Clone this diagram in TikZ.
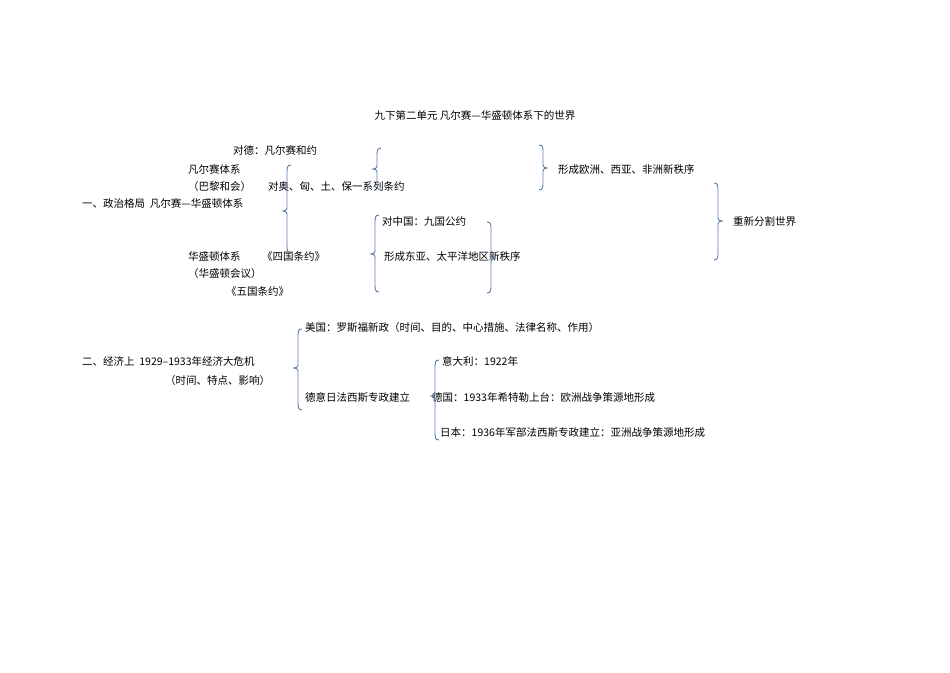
\documentclass[tikz,border=0pt]{standalone}
\usepackage{fontspec}
\setmainfont{Noto Sans CJK SC}
\definecolor{brc}{HTML}{5A7EA8}
\newcommand\mybraceL[4]{% x, top, bottom, tip
 \draw[brc,line width=0.9pt] (#1+4,#2) .. controls (#1,#2) and (#1,#2+3) .. (#1,#2+8) -- (#1,#4-5) .. controls (#1,#4-1) .. (#1-4,#4) .. controls (#1,#4+1) .. (#1,#4+5) -- (#1,#3-8) .. controls (#1,#3-3) and (#1,#3) .. (#1+4,#3);}
\newcommand\mybraceR[4]{%
 \draw[brc,line width=0.9pt] (#1-4,#2) .. controls (#1,#2) and (#1,#2+3) .. (#1,#2+8) -- (#1,#4-5) .. controls (#1,#4-1) .. (#1+4,#4) .. controls (#1,#4+1) .. (#1,#4+5) -- (#1,#3-8) .. controls (#1,#3-3) and (#1,#3) .. (#1-4,#3);}
\begin{document}
\begin{tikzpicture}[x=1pt,y=-1pt,
 t/.style={anchor=base west,inner sep=0pt,font=\fontsize{10.5}{12}\selectfont}]
\useasboundingbox (0,0) rectangle (950,672);
\node[t,anchor=base] (title) at (475,119) {九下第二单元 凡尔赛---华盛顿体系下的世界};
\node[t] (a1) at (233,154) {对德：凡尔赛和约};
\node[t] (a2) at (188,173) {凡尔赛体系};
\node[t] (a3) at (188,190) {（巴黎和会）};
\node[t] (a4) at (268,190) {对奥、匈、土、保一系列条约};
\node[t] (a5) at (82,207) {一、政治格局\ \ 凡尔赛---华盛顿体系};
\node[t] (a6) at (382,225) {对中国：九国公约};
\node[t] (a7) at (558,173) {形成欧洲、西亚、非洲新秩序};
\node[t] (a8) at (733,225) {重新分割世界};
\node[t] (a9) at (188,260) {华盛顿体系};
\node[t] (a10) at (262,260) {《四国条约》};
\node[t] (a11) at (384,260) {形成东亚、太平洋地区新秩序};
\node[t] (a12) at (188,277) {（华盛顿会议）};
\node[t] (a13) at (226,295) {《五国条约》};
\node[t] (b1) at (305,331) {美国：罗斯福新政（时间、目的、中心措施、法律名称、作用）};
\node[t] (b2) at (82,365) {二、经济上\ \ 1929--1933年经济大危机};
\node[t] (b3) at (165,384) {（时间、特点、影响）};
\node[t] (b4) at (442,365) {意大利：1922年};
\node[t] (b5) at (305,401) {德意日法西斯专政建立};
\node[t] (b6) at (432,401) {德国：1933年希特勒上台：欧洲战争策源地形成};
\node[t] (b7) at (440,436) {日本：1936年军部法西斯专政建立：亚洲战争策源地形成};
\mybraceL{287}{165}{253}{211}
\mybraceL{377}{148}{190}{169}
\mybraceR{543}{145}{190}{168}
\mybraceL{375}{215}{292}{254}
\mybraceR{491}{222}{293}{258}
\mybraceR{718}{183}{260}{221}
\mybraceL{298}{329}{410}{368}
\mybraceL{435}{360}{440}{396}
\end{tikzpicture}
\end{document}
